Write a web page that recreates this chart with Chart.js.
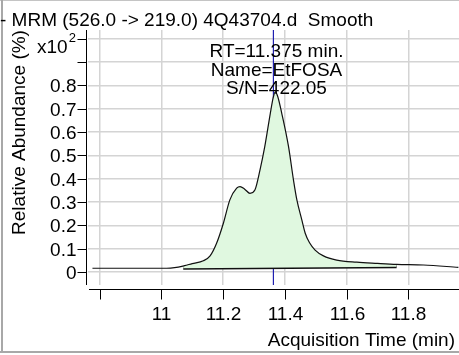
<!DOCTYPE html>
<html>
<head>
<meta charset="utf-8">
<script src="https://cdn.jsdelivr.net/npm/chart.js@4.4.1/dist/chart.umd.min.js"></script>
<style>
  html, body { margin: 0; padding: 0; background: #ffffff; }
  #wrap { width: 459px; height: 355px; position: relative; }
</style>
</head>
<body>
<div id="wrap"><canvas id="c" width="459" height="355"></canvas></div>
<script>
// ---- data ----
const chartTitle = '- MRM (526.0 -> 219.0) 4Q43704.d  Smooth';
const timeMin = [10.777, 10.9, 11.0, 11.03, 11.055, 11.075, 11.10, 11.136, 11.158, 11.179, 11.201, 11.222, 11.244, 11.255, 11.270, 11.287, 11.303, 11.320, 11.335, 11.353, 11.362, 11.369, 11.377, 11.390, 11.412, 11.428, 11.439, 11.455, 11.466, 11.480, 11.498, 11.525, 11.568, 11.633, 11.70, 11.762, 11.849, 11.962];
const abundance = [0.016, 0.016, 0.016, 0.017, 0.021, 0.027, 0.036, 0.048, 0.069, 0.123, 0.209, 0.309, 0.359, 0.366, 0.355, 0.337, 0.351, 0.440, 0.537, 0.680, 0.745, 0.772, 0.752, 0.680, 0.537, 0.394, 0.309, 0.223, 0.166, 0.125, 0.094, 0.069, 0.051, 0.042, 0.037, 0.033, 0.030, 0.020];
const baselineTime = [11.071, 11.762];
const baselineAbund = [0.016, 0.023];
const rtTime = 11.363;
const annotationTime = 11.373;
const annotationLines = ['RT=11.375 min.', 'Name=EtFOSA', 'S/N=422.05'];
const xTickValues = [10.8, 11.0, 11.2, 11.4, 11.6, 11.8];
const xTickLabels = ['', '11', '11.2', '11.4', '11.6', '11.8'];
const yTickValues = [0, 0.1, 0.2, 0.3, 0.4, 0.5, 0.6, 0.7, 0.8, 0.9, 1.0];
const yTickLabels = ['0', '0.1', '0.2', '0.3', '0.4', '0.5', '0.6', '0.7', '0.8', '', ''];
const yScaleLabel = 'x10';
const yScaleExp = '2';
const xTitle = 'Acquisition Time (min)';
const yTitle = 'Relative Abundance (%)';
const xRange = [10.7626, 11.964];
const yRange = [-0.0557, 1.0368];

const FONT = '"Liberation Sans", Arial, sans-serif';

const curvePts = timeMin.map((t, i) => ({ x: t, y: abundance[i] }));
const basePts = baselineTime.map((t, i) => ({ x: t, y: baselineAbund[i] }));
const rtPts = [{ x: rtTime, y: yRange[0] }, { x: rtTime, y: yRange[1] }];

const decorPlugin = {
  id: 'decor',
  afterDraw(chart) {
    const ctx = chart.ctx;
    const xs = chart.scales.x, ys = chart.scales.y, ca = chart.chartArea;
    ctx.save();
    // frame
    ctx.strokeStyle = '#c4c4c4'; ctx.lineWidth = 1;
    ctx.beginPath(); ctx.moveTo(0, 0.5); ctx.lineTo(459, 0.5); ctx.stroke();
    ctx.strokeStyle = '#a8a8a8'; ctx.lineWidth = 2;
    ctx.beginPath(); ctx.moveTo(2, 0); ctx.lineTo(2, 353); ctx.stroke();
    ctx.beginPath(); ctx.moveTo(0, 352); ctx.lineTo(459, 352); ctx.stroke();

    ctx.strokeStyle = '#000'; ctx.lineWidth = 1;
    // y axis
    const ax = Math.round(ca.left) - 2 + 0.5;
    ctx.beginPath(); ctx.moveTo(ax, ca.top); ctx.lineTo(ax, ca.bottom); ctx.stroke();
    ctx.font = '19px ' + FONT; ctx.fillStyle = '#000';
    ctx.textAlign = 'right'; ctx.textBaseline = 'middle';
    yTickValues.forEach((v, i) => {
      const py = Math.round(ys.getPixelForValue(v)) + 0.5;
      ctx.beginPath(); ctx.moveTo(ax - 9, py); ctx.lineTo(ax, py); ctx.stroke();
      if (yTickLabels[i]) ctx.fillText(yTickLabels[i], ax - 10, py + 1);
    });
    // x10^2
    ctx.textAlign = 'left'; ctx.textBaseline = 'alphabetic';
    ctx.font = '19px ' + FONT;
    const topPy = ys.getPixelForValue(yTickValues[yTickValues.length - 1]);
    ctx.fillText(yScaleLabel, 37, topPy + 14);
    const w = ctx.measureText(yScaleLabel).width;
    ctx.font = '13px ' + FONT;
    ctx.fillText(yScaleExp, 37 + w + 1, topPy + 3);

    // x axis
    const ay = Math.round(ca.bottom) + 4 + 0.5;
    ctx.beginPath(); ctx.moveTo(ca.left + 1, ay); ctx.lineTo(ca.right, ay); ctx.stroke();
    ctx.font = '19px ' + FONT; ctx.textAlign = 'center'; ctx.textBaseline = 'alphabetic';
    xTickValues.forEach((v, i) => {
      const px = Math.round(xs.getPixelForValue(v)) + 0.5;
      ctx.beginPath(); ctx.moveTo(px, ay); ctx.lineTo(px, ay + 10); ctx.stroke();
      if (xTickLabels[i]) ctx.fillText(xTickLabels[i], px, ay + 30);
    });
    // titles
    ctx.textAlign = 'right';
    ctx.fillText(xTitle, 455, 346);
    ctx.save();
    ctx.translate(25, 132.5); ctx.rotate(-Math.PI / 2);
    ctx.textAlign = 'center';
    ctx.fillText(yTitle, 0, 0);
    ctx.restore();
    ctx.textAlign = 'left';
    ctx.fillText(chartTitle, 0, 26);
    // annotation
    ctx.textAlign = 'center';
    const cx = xs.getPixelForValue(annotationTime);
    const baseYs = [57, 75.5, 94];
    annotationLines.forEach((s, i) => ctx.fillText(s, cx, baseYs[i]));
    ctx.restore();
  }
};

new Chart(document.getElementById('c'), {
  type: 'line',
  data: {
    datasets: [
      { data: curvePts, borderColor: '#111', borderWidth: 1.2, pointRadius: 0,
        cubicInterpolationMode: 'monotone', fill: 1, backgroundColor: 'rgba(224,248,224,1)' },
      { data: basePts, borderColor: '#111', borderWidth: 3, pointRadius: 0, tension: 0, fill: false },
      { data: rtPts, borderColor: '#2020b0', borderWidth: 1.2, pointRadius: 0, tension: 0, fill: false }
    ]
  },
  options: {
    responsive: false,
    animation: false,
    devicePixelRatio: 1,
    layout: { padding: { left: 88, top: 30, right: 0, bottom: 70 } },
    plugins: { legend: { display: false }, tooltip: { enabled: false }, title: { display: false } },
    scales: {
      x: {
        type: 'linear', min: xRange[0], max: xRange[1],
        afterBuildTicks: s => { s.ticks = xTickValues.map(v => ({ value: v })); },
        ticks: { display: false },
        grid: { color: '#d4d4d4', lineWidth: 1.5, drawTicks: false },
        border: { display: false }
      },
      y: {
        type: 'linear', min: yRange[0], max: yRange[1],
        afterBuildTicks: s => { s.ticks = yTickValues.map(v => ({ value: v })); },
        ticks: { display: false },
        grid: { color: '#d4d4d4', lineWidth: 1.5, drawTicks: false },
        border: { display: false }
      }
    }
  },
  plugins: [decorPlugin]
});
</script>
</body>
</html>
